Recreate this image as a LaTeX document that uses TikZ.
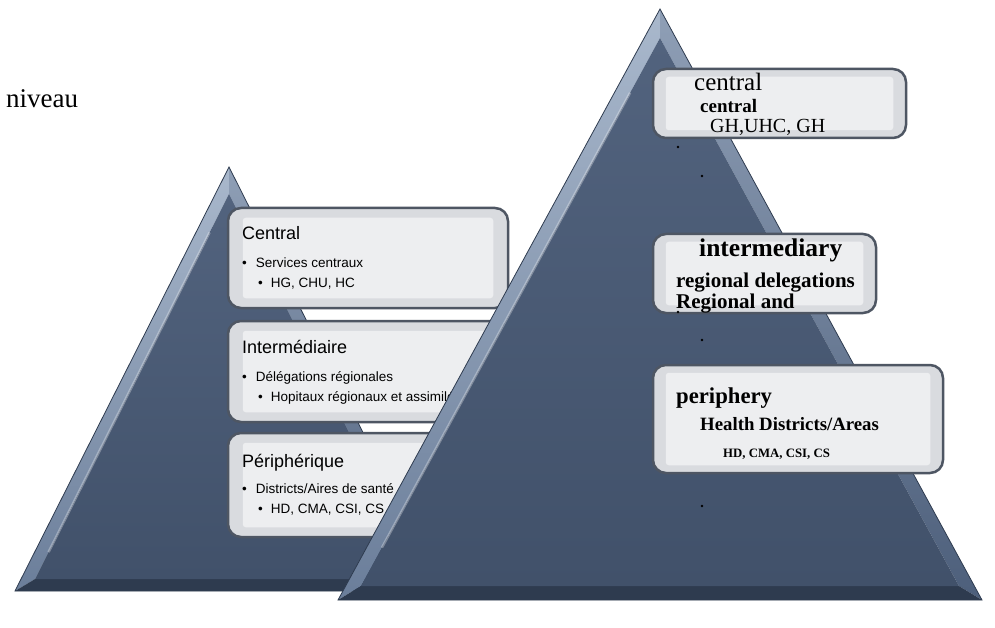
\documentclass[tikz,border=0pt]{standalone}
\usepackage{fontspec}
\setmainfont{Liberation Serif}
\setsansfont{Liberation Sans}
\usetikzlibrary{calc}

\definecolor{slate}{HTML}{41516A}
\definecolor{slatetop}{HTML}{52637E}
\definecolor{bevleft}{HTML}{A9B8CC}
\definecolor{bevleftlow}{HTML}{6B7E9A}
\definecolor{bevright}{HTML}{8F9FB6}
\definecolor{bevrightlow}{HTML}{4D5F7B}
\definecolor{bevbottom}{HTML}{2E3B4F}
\definecolor{boxline}{HTML}{4E5663}
\definecolor{boxgray}{HTML}{D9DBDF}
\definecolor{boxin}{HTML}{EDEEF0}

\newcommand{\fs}[1]{\fontsize{#1}{#1}\selectfont}
% apex x, apex y, base y, half width, inner apex y, inner base y, inner half width
\newcommand{\pyr}[7]{%
  \coordinate (pa) at (#1,#2);
  \coordinate (pl) at (#1-#4,#3);
  \coordinate (pr) at (#1+#4,#3);
  \coordinate (ia) at (#1,#5);
  \coordinate (il) at (#1-#7,#6);
  \coordinate (ir) at (#1+#7,#6);
  \shade[top color=bevleft, bottom color=bevleftlow] (pa) -- (pl) -- (il) -- (ia) -- cycle;
  \shade[top color=bevright, bottom color=bevrightlow] (pa) -- (ia) -- (ir) -- (pr) -- cycle;
  \fill[bevbottom] (pl) -- (pr) -- (ir) -- (il) -- cycle;
  \shade[top color=slatetop, bottom color=slate] (ia) -- (il) -- (ir) -- cycle;
  \draw[white, opacity=.3, line width=2.5pt] ($(ia)!.1!(il)$) -- ($(ia)!.93!(il)$);
  \draw[bevbottom, line width=.8pt] (pa) -- (pl) -- (pr) -- cycle;
}

\begin{document}
\begin{tikzpicture}[x=1pt, y=-1pt,
  box/.style={rectangle, rounded corners=13pt, draw=boxline, line width=2.5pt, fill=boxgray, inner sep=0},
  lbl/.style={anchor=base west, inner sep=0},
  dot/.style={circle, fill=black, inner sep=.9pt}]
\useasboundingbox (0,0) rectangle (995,628);

\pyr{229}{167}{591}{214}{194}{579}{194}

\node[box, minimum width=280, minimum height=100] (c1) at (368,258) {};
\node[box, minimum width=280, minimum height=101] (c2) at (368,371.5) {};
\node[box, minimum width=280, minimum height=104] (c3) at (368,485) {};
\foreach \b in {c1,c2,c3}
  \fill[boxin, rounded corners=3pt] ($(\b.north west)+(16,11)$) rectangle ($(\b.south east)+(-16,-11)$);

\node[lbl, font=\sffamily\fs{18}] (t1) at (242,240) {Central};
\node[lbl, font=\sffamily\fs{13.5}] (t1a) at (242,268) {•\hspace{9pt}Services centraux};
\node[lbl, font=\sffamily\fs{13.5}] (t1b) at (258,287) {•\hspace{8pt}HG, CHU, HC};
\node[lbl, font=\sffamily\fs{18}] (t2) at (242,353) {Intermédiaire};
\node[lbl, font=\sffamily\fs{13.5}] (t2a) at (242,381) {•\hspace{9pt}Délégations régionales};
\node[lbl, font=\sffamily\fs{13.5}] (t2b) at (258,401) {•\hspace{8pt}Hopitaux régionaux et assimilé};
\node[lbl, font=\sffamily\fs{18}] (t3) at (242,467) {Périphérique};
\node[lbl, font=\sffamily\fs{13.5}] (t3a) at (242,493) {•\hspace{9pt}Districts/Aires de santé};
\node[lbl, font=\sffamily\fs{13.5}] (t3b) at (258,513) {•\hspace{8pt}HD, CMA, CSI, CS};

\pyr{660}{9}{600}{322}{38}{586}{299}

\node[box, minimum width=253, minimum height=69] (r1) at (779.5,103.5) {};
\node[box, minimum width=223, minimum height=79] (r2) at (764.5,273.5) {};
\node[box, minimum width=290, minimum height=108] (r3) at (798,419) {};
\foreach \b in {r1,r2,r3}
  \fill[boxin, rounded corners=3pt] ($(\b.north west)+(14,9)$) rectangle ($(\b.south east)+(-14,-9)$);

\node[lbl, font=\fs{25}] (u1) at (694,91) {central};
\node[lbl, font=\bfseries\fs{19}] (u1a) at (700,113) {central};
\node[lbl, font=\fs{20}] (u1b) at (710,133) {GH,UHC, GH};
\node[lbl, font=\bfseries\fs{25.5}] (u2) at (699,257) {intermediary};
\node[lbl, font=\bfseries\fs{21}] (u2a) at (676,287) {regional delegations};
\node[lbl, font=\bfseries\fs{21}] (u2b) at (676,308) {Regional and};
\node[lbl, font=\bfseries\fs{22.7}] (u3) at (676,403) {periphery};
\node[lbl, font=\bfseries\fs{18.8}] (u3a) at (700,430) {Health Districts/Areas};
\node[lbl, font=\bfseries\fs{12.8}] (u3b) at (723,457) {HD, CMA, CSI, CS};

\node[dot] (d1) at (678,147) {};
\node[dot] (d2) at (702,176) {};
\node[dot] (d3) at (678,312) {};
\node[dot] (d4) at (702,340) {};
\node[dot] (d5) at (702,506) {};

\node[lbl, font=\fs{27}] (niv) at (6,108) {niveau};
\end{tikzpicture}
\end{document}
